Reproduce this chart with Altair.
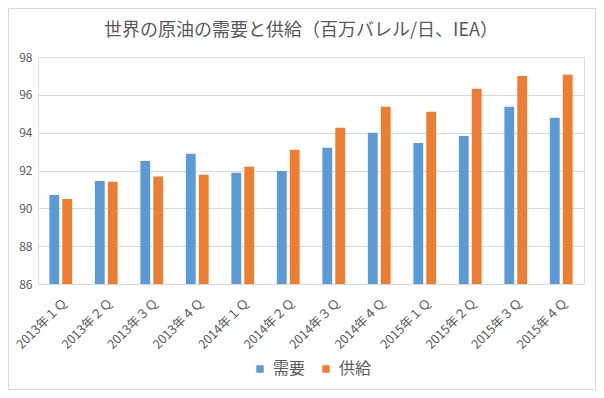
import altair as alt
import pandas as pd

quarters = ["2013年１Ｑ", "2013年２Ｑ", "2013年３Ｑ", "2013年４Ｑ",
            "2014年１Ｑ", "2014年２Ｑ", "2014年３Ｑ", "2014年４Ｑ",
            "2015年１Ｑ", "2015年２Ｑ", "2015年３Ｑ", "2015年４Ｑ"]
demand = [90.71, 91.45, 92.5, 92.88, 91.88, 91.98, 93.2, 94.0, 93.46, 93.83, 95.37, 94.79]
supply = [90.5, 91.4, 91.68, 91.77, 92.2, 93.1, 94.26, 95.37, 95.1, 96.32, 97.0, 97.06]
series = ["需要", "供給"]
colors = ["#5B9BD5", "#ED7D31"]
y_ticks = [86, 88, 90, 92, 94, 96, 98]

rows = []
for q, d, s in zip(quarters, demand, supply):
    rows.append({"quarter": q, "series": series[0], "value": d})
    rows.append({"quarter": q, "series": series[1], "value": s})
df = pd.DataFrame(rows)

FONT = "Noto Sans CJK JP"
GRAY = "#595959"

bars = alt.Chart(df).mark_bar().encode(
    x=alt.X("quarter:N", sort=quarters,
            scale=alt.Scale(paddingInner=0.5, paddingOuter=0.25),
            axis=alt.Axis(title=None, labelAngle=-45, ticks=False, domain=False,
                          labelColor=GRAY, labelFontSize=12.5, labelPadding=12,
                          labelFont=FONT)),
    xOffset=alt.XOffset("series:N", sort=series, scale=alt.Scale(paddingInner=0.24)),
    y=alt.Y("value:Q", scale=alt.Scale(domain=[86, 98], zero=False, nice=False),
            axis=alt.Axis(title=None, values=y_ticks, ticks=False, domain=False,
                          labelColor=GRAY, labelFontSize=12, labelPadding=6,
                          labelFont=FONT, gridColor="#d9d9d9")),
    y2=alt.datum(86),
    color=alt.Color("series:N", sort=series,
                    scale=alt.Scale(domain=series, range=colors),
                    legend=alt.Legend(title=None, orient="none", legendX=214, legendY=304,
                                      direction="horizontal", symbolType="square",
                                      symbolSize=56, labelFontSize=16, labelColor=GRAY,
                                      labelFont=FONT, labelOffset=5, columnPadding=12)),
)

border = alt.Chart(pd.DataFrame({"a": [0]})).mark_rect(
    filled=False, stroke="#d9d9d9", strokeWidth=1
).encode(x=alt.value(-29.5), x2=alt.value(557.5), y=alt.value(-48.5), y2=alt.value(332.5))

chart = alt.layer(border, bars).properties(
    width=546, height=227,
    autosize="none",
    padding={"left": 30, "top": 49, "right": 12, "bottom": 106},
    title=alt.Title("世界の原油の需要と供給（百万バレル/日、IEA）", fontSize=18, color=GRAY,
                    font=FONT, fontWeight="normal", anchor="middle", offset=18, dx=-10, dy=50),
).configure_view(stroke=None).configure(font=FONT)

chart.save("out.html", embed_options={"renderer": "svg", "actions": False})
